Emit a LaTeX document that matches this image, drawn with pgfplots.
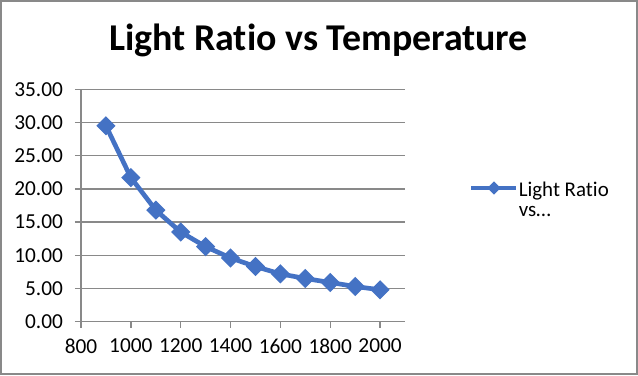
\documentclass[border=0pt]{standalone}
\usepackage{pgfplots}
\pgfplotsset{compat=1.18}
\usepackage{fontspec}
\setmainfont{Carlito}[Ligatures=NoCommon]
\definecolor{xlblue}{RGB}{68,114,196}
\definecolor{gridc}{RGB}{137,137,137}
\pgfplotstableread{
T R
900 29.5
1000 21.7
1100 16.8
1200 13.5
1300 11.3
1400 9.6
1500 8.3
1600 7.2
1700 6.5
1800 5.9
1900 5.3
2000 4.8
}\datatable
\begin{document}
\begin{tikzpicture}
\useasboundingbox (0,0) rectangle (478.5pt,281.25pt);
\draw[gridc, line width=1.5pt] (0.9pt,0.9pt) rectangle (477.6pt,280.35pt);
\node[font=\fontsize{28.4}{34}\selectfont\bfseries, anchor=base, inner sep=0pt] at (238.9pt,243pt) {Light Ratio vs Temperature};
\begin{axis}[
  at={(60.75pt,40pt)}, anchor=south west,
  scale only axis, width=243pt, height=174.3pt,
  xmin=800, xmax=2100, ymin=0, ymax=35,
  xtick={800,1000,...,2000}, ytick={0,5,...,35},
  axis x line*=bottom, axis y line*=left,
  axis line style={gridc, line width=1pt},
  ymajorgrids, grid style={gridc, line width=1pt},
  tick style={gridc, line width=1pt},
  tick align=outside, major tick length=4.5pt,
  /pgf/number format/assume math mode=true,
  yticklabel style={xshift=-5.5pt, /pgf/number format/.cd, fixed, fixed zerofill, precision=2},
  xticklabel style={yshift=-5pt, /pgf/number format/.cd, set thousands separator={}},
  ticklabel style={font=\fontsize{16}{19}\selectfont, text=black},
  clip=false,
  legend style={draw=none, fill=none, at={(1.197,0.575)}, anchor=west, inner sep=0pt,
    font=\fontsize{15.7}{19.5}\selectfont},
  legend image code/.code={\draw[#1, mark size=3pt, mark repeat=2, mark phase=2] plot coordinates {(0pt,0pt)(16.9pt,0pt)(33.75pt,0pt)};},
]
\addplot[xlblue, line width=3.5pt, mark=square*, mark size=4.6pt, mark options={rotate=45, fill=xlblue, line width=1pt}] table[x=T, y=R] {\datatable};
\addlegendentry{\hspace{-2pt}\begin{tabular}[t]{@{}l@{}}Light Ratio\\[-4pt]vs\ldots\end{tabular}}
\end{axis}
\end{tikzpicture}
\end{document}
